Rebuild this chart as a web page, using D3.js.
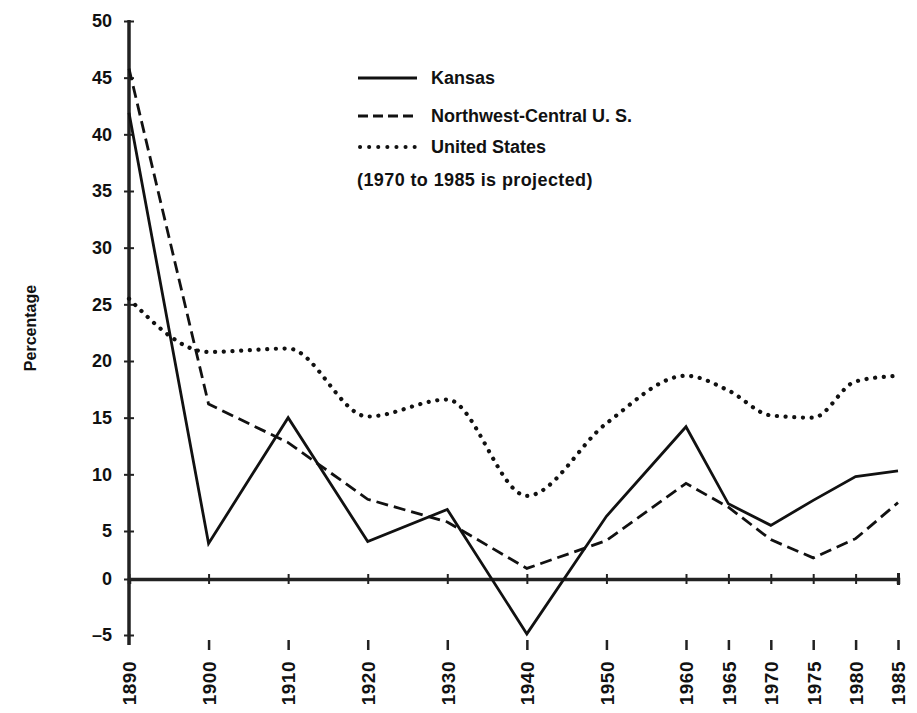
<!DOCTYPE html>
<meta charset="utf-8">
<head>
    <script type="text/javascript" src="https://cdn.jsdelivr.net/npm/d3@7/dist/d3.min.js"></script>
    <style>
        body { margin: 0; background: #fff; }
        text { font-family: "Liberation Sans", Arial, sans-serif; font-weight: bold; fill: #111; }
    </style>
</head>
<body>
<div id="chart"></div>
<script>
    // data
    var years = [1890, 1900, 1910, 1920, 1930, 1940, 1950, 1960, 1965, 1970, 1975, 1980, 1985];
    var kansas = [41.9, 3.7, 15.0, 3.9, 6.9, -4.9, 6.3, 14.2, 7.4, 5.5, 7.7, 9.8, 10.3];
    var northwest = [45.8, 16.2, 12.8, 7.8, 5.8, 1.1, 4.0, 9.2, 7.1, 4.1, 2.2, 4.2, 7.5];
    var unitedStates = [25.5, 20.8, 21.1, 15.1, 16.6, 8.1, 14.5, 18.7, 17.4, 15.2, 15.0, 18.2, 18.7];
    var yTicks = [-5, 0, 5, 10, 15, 20, 25, 30, 35, 40, 45, 50];
    var legendLabels = ["Kansas", "Northwest-Central U. S.", "United States"];
    var legendNote = "(1970 to 1985 is projected)";
    var yTitle = "Percentage";

    var w = 917, h = 713;
    var svg = d3.select("#chart").append("svg").attr("width", w).attr("height", h);

    // the original drawing is not evenly spaced, so piecewise scales
    var x = d3.scaleLinear().domain([1890, 1960, 1985]).range([129, 686, 898]);
    var y = d3.scaleLinear().domain([-5, 0, 5, 50]).range([635, 579, 531, 21]);

    var axisColor = "#222";

    // y axis
    var yAxis = svg.append("g")
        .attr("transform", "translate(" + x(1890) + ",0)")
        .call(d3.axisLeft(y).tickValues(yTicks).tickSize(5).tickPadding(12)
            .tickFormat(d => d < 0 ? "\u2013" + Math.abs(d) : d));
    yAxis.select(".domain").remove();
    yAxis.append("line")
        .attr("y1", y(50) - 1).attr("y2", y(-5) + 10)
        .attr("stroke", axisColor).attr("stroke-width", 3.5);
    yAxis.selectAll(".tick line").attr("x1", -5).attr("x2", 5)
        .attr("stroke", axisColor).attr("stroke-width", 2);
    yAxis.selectAll(".tick text").style("font-size", "18px").attr("fill", "#111");

    // zero line with ticks across it
    var zeroAxis = svg.append("g")
        .attr("transform", "translate(0," + y(0) + ")")
        .call(d3.axisBottom(x).tickValues(years).tickSizeOuter(0).tickSize(5).tickFormat(""));
    zeroAxis.select(".domain").attr("stroke", axisColor).attr("stroke-width", 3.5);
    zeroAxis.selectAll(".tick line").attr("y1", -5).attr("y2", 5)
        .attr("stroke", axisColor).attr("stroke-width", 2);
    zeroAxis.selectAll(".tick").filter(d => d === 1985).select("line")
        .attr("y1", -6).attr("y2", 6).attr("stroke-width", 3);

    // year ticks and labels below the chart
    var xAxis = svg.append("g")
        .attr("transform", "translate(0," + (y(-5) + 5) + ")")
        .call(d3.axisBottom(x).tickValues(years).tickSize(10).tickPadding(0).tickFormat(d3.format("d")));
    xAxis.select(".domain").remove();
    xAxis.selectAll(".tick line").attr("stroke", axisColor).attr("stroke-width", 2.5);
    xAxis.selectAll(".tick").filter(d => d === 1890).select("line").remove();
    xAxis.selectAll(".tick text")
        .style("font-size", "19px")
        .style("letter-spacing", "0.5px")
        .attr("text-anchor", "end")
        .attr("transform", "rotate(-90)")
        .attr("x", -21).attr("y", 0).attr("dy", "0.36em")
        .attr("fill", "#111");

    // y title
    svg.append("text")
        .attr("transform", "translate(36,328) rotate(-90)")
        .attr("text-anchor", "middle")
        .style("font-size", "16px")
        .text(yTitle);

    // series
    var lineLinear = d3.line().x((d, i) => x(years[i])).y(d => y(d));
    var lineSmooth = d3.line().x((d, i) => x(years[i])).y(d => y(d)).curve(d3.curveMonotoneX);

    svg.append("path").datum(kansas)
        .attr("d", lineLinear).attr("fill", "none")
        .attr("stroke", "#111").attr("stroke-width", 2.8).attr("stroke-linejoin", "miter");

    svg.append("path").datum(northwest)
        .attr("d", lineLinear).attr("fill", "none")
        .attr("stroke", "#111").attr("stroke-width", 2.8)
        .attr("stroke-dasharray", "12 6");

    svg.append("path").datum(unitedStates)
        .attr("d", lineSmooth).attr("fill", "none")
        .attr("stroke", "#111").attr("stroke-width", 4.2)
        .attr("stroke-linecap", "round")
        .attr("stroke-dasharray", "0.1 8.6");

    // legend
    var legendStyles = [
        {dash: null, width: 2.8, cap: "butt"},
        {dash: "10 5", width: 2.8, cap: "butt"},
        {dash: "0.1 9", width: 4, cap: "round"}
    ];
    var legendY = [78, 116, 147];
    var legend = svg.append("g");
    legendLabels.forEach((label, i) => {
        var s = legendStyles[i];
        legend.append("line")
            .attr("x1", i === 2 ? 360 : 358).attr("x2", 417)
            .attr("y1", legendY[i]).attr("y2", legendY[i])
            .attr("stroke", "#111").attr("stroke-width", s.width)
            .attr("stroke-linecap", s.cap)
            .attr("stroke-dasharray", s.dash);
        legend.append("text")
            .attr("x", 431).attr("y", legendY[i]).attr("dy", "0.36em")
            .style("font-size", "18px")
            .text(label);
    });
    legend.append("text")
        .attr("x", 357).attr("y", 180).attr("dy", "0.36em")
        .style("font-size", "18px")
        .style("letter-spacing", "0.4px")
        .text(legendNote);
</script>
</body>
